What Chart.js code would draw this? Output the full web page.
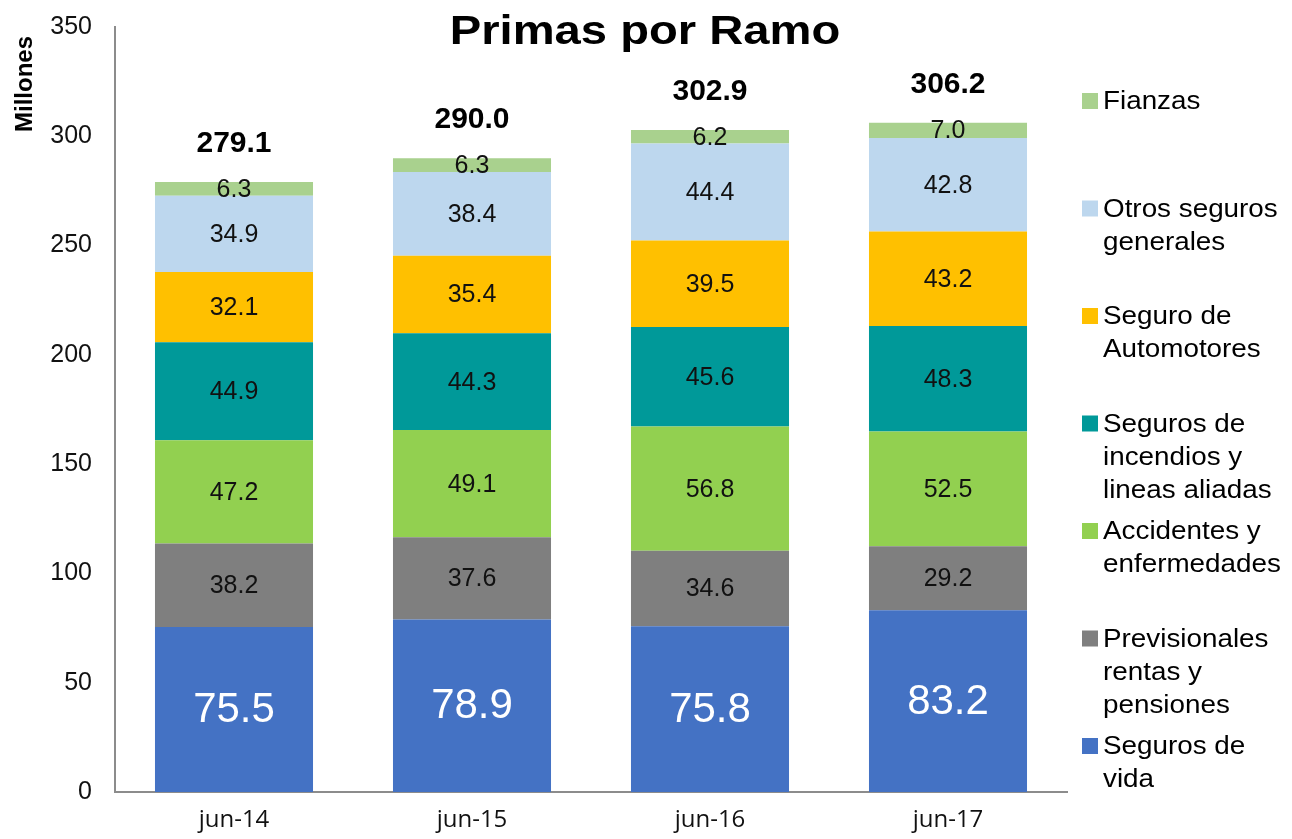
<!DOCTYPE html>
<html>
<head>
    <title>Primas por Ramo</title>
    <style>
        body{ margin:0; background:white; }
        .wrap{ width:1292px; height:839px; position:relative; }
    </style>
</head>
<body>
<div class="wrap"><canvas id="primas"></canvas></div>

<script src="https://cdn.jsdelivr.net/npm/chart.js@4.4.0/dist/chart.umd.min.js"></script>
<script>
    // periodos y primas por ramo (millones)
    const periodos = ["jun-14", "jun-15", "jun-16", "jun-17"];
    const segurosVida = [75.5, 78.9, 75.8, 83.2];
    const previsionales = [38.2, 37.6, 34.6, 29.2];
    const accidentes = [47.2, 49.1, 56.8, 52.5];
    const incendios = [44.9, 44.3, 45.6, 48.3];
    const automotores = [32.1, 35.4, 39.5, 43.2];
    const otrosGenerales = [34.9, 38.4, 44.4, 42.8];
    const fianzas = [6.3, 6.3, 6.2, 7.0];
    const yTicks = [0, 50, 100, 150, 200, 250, 300, 350];

    const series = [
        {label: ["Seguros de", "vida"], data: segurosVida, color: "#4472C4", text: "white", big: true},
        {label: ["Previsionales", "rentas y", "pensiones"], data: previsionales, color: "#7F7F7F", text: "#111"},
        {label: ["Accidentes y", "enfermedades"], data: accidentes, color: "#92D050", text: "#111"},
        {label: ["Seguros de", "incendios y", "lineas aliadas"], data: incendios, color: "#009999", text: "#111"},
        {label: ["Seguro de", "Automotores"], data: automotores, color: "#FFC000", text: "#111"},
        {label: ["Otros seguros", "generales"], data: otrosGenerales, color: "#BDD7EE", text: "#111"},
        {label: ["Fianzas"], data: fianzas, color: "#A9D18E", text: "#111"}
    ];

    const totales = periodos.map((p, i) => series.reduce((s, d) => s + d.data[i], 0));

    const etiquetas = {
        id: "etiquetas",
        afterDatasetsDraw(chart) {
            const ctx = chart.ctx;
            ctx.save();
            ctx.textAlign = "center";
            ctx.textBaseline = "middle";
            chart.data.datasets.forEach((ds, di) => {
                const meta = chart.getDatasetMeta(di);
                const s = series[di];
                ctx.fillStyle = s.text;
                ctx.font = s.big ? "42px 'Liberation Sans', Arial" : "25px 'Liberation Sans', Arial";
                meta.data.forEach((bar, i) => {
                    ctx.fillText(s.data[i].toFixed(1), bar.x, (bar.y + bar.base) / 2 + 1);
                });
            });
            // totales encima de cada barra
            const top = chart.getDatasetMeta(chart.data.datasets.length - 1);
            ctx.fillStyle = "#000";
            ctx.font = "bold 30px 'Liberation Sans', Arial";
            top.data.forEach((bar, i) => {
                ctx.fillText(totales[i].toFixed(1), bar.x, bar.y - 38);
            });

            // titulo
            ctx.save();
            ctx.translate(645, 33);
            ctx.scale(1.15, 1);
            ctx.font = "bold 41px 'Liberation Sans', Arial";
            ctx.fillText("Primas por Ramo", 0, 0);
            ctx.restore();

            // titulo del eje
            ctx.save();
            ctx.translate(25, 84);
            ctx.rotate(-Math.PI / 2);
            ctx.font = "bold 24px 'Liberation Sans', Arial";
            ctx.fillText("Millones", 0, 0);
            ctx.restore();

            // leyenda, en orden inverso
            ctx.textAlign = "left";
            ctx.font = "26px 'Liberation Sans', Arial";
            const ordered = series.slice().reverse();
            ordered.forEach((s, k) => {
                const y0 = 101 + k * 107.5;
                ctx.fillStyle = s.color;
                ctx.fillRect(1082, y0 - 8, 16, 16);
                ctx.fillStyle = "#000";
                s.label.forEach((line, li) => {
                    ctx.save();
                    ctx.translate(1103, y0 + li * 33 + 1);
                    ctx.scale(1.07, 1);
                    ctx.fillText(line, 0, 0);
                    ctx.restore();
                });
            });
            ctx.restore();
        }
    };

    new Chart("primas", {
        type: "bar",
        data: {
            labels: periodos,
            datasets: series.map(s => ({
                label: s.label.join(" "),
                data: s.data,
                backgroundColor: s.color,
                borderWidth: 0,
                categoryPercentage: 1,
                barPercentage: 0.664
            }))
        },
        options: {
            responsive: true,
            maintainAspectRatio: false,
            animation: false,
            layout: {padding: {left: 0, right: 225, top: 27, bottom: 0}},
            plugins: {
                legend: {display: false},
                title: {display: false},
                tooltip: {enabled: false}
            },
            scales: {
                x: {
                    stacked: true,
                    grid: {display: false, drawTicks: false},
                    border: {display: true, color: "#8c8c8c", width: 2},
                    ticks: {
                        color: "#111",
                        padding: 14,
                        font: {family: "'Open Sans'", size: 24}
                    },
                    afterFit(scale) { scale.height = 47; }
                },
                y: {
                    stacked: true,
                    min: 0,
                    max: 350,
                    afterBuildTicks(scale) { scale.ticks = yTicks.map(v => ({value: v})); },
                    grid: {display: false, drawTicks: false},
                    border: {display: true, color: "#8c8c8c", width: 2},
                    ticks: {
                        color: "#111",
                        padding: 23,
                        font: {family: "'Liberation Sans', Arial", size: 25}
                    },
                    afterFit(scale) {
                        scale.width = 115;
                        scale.paddingTop = 0;
                        scale.paddingBottom = 0;
                    }
                }
            }
        },
        plugins: [etiquetas]
    });
</script>
</body>
</html>
